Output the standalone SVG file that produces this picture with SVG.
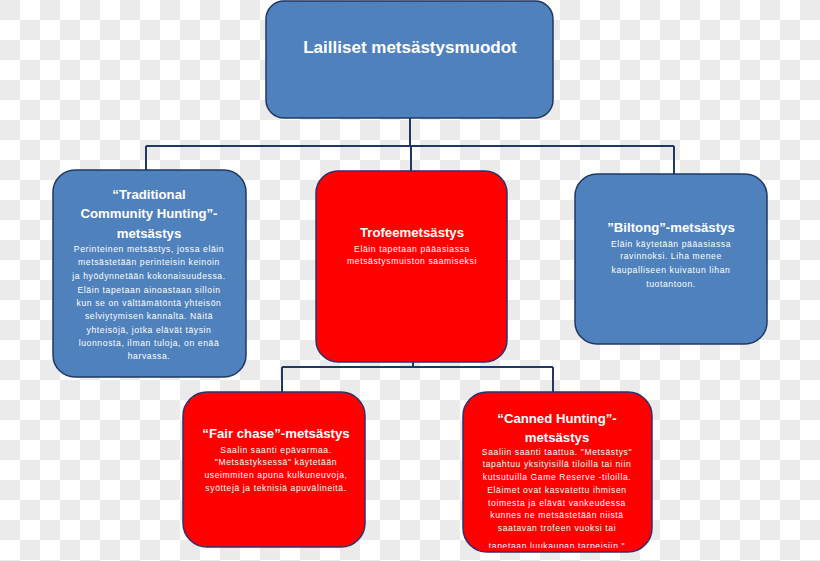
<svg xmlns="http://www.w3.org/2000/svg" width="820" height="561" viewBox="0 0 820 561">
<defs>
<pattern id="chk" width="40" height="40" patternUnits="userSpaceOnUse">
<rect width="40" height="40" fill="#ffffff"/>
<rect x="0" y="0" width="20" height="20" fill="#ebebeb"/>
<rect x="20" y="20" width="20" height="20" fill="#ebebeb"/>
</pattern>
<clipPath id="clipCanned"><rect x="463" y="392" width="189" height="156" rx="24"/></clipPath>
<style>
.blue{fill:#4f81bd;stroke:#1f3864;stroke-width:1.5}
.red{fill:#ff0000;stroke:#2e3170;stroke-width:1.5}
.conn{fill:none;stroke:#1f3864;stroke-width:2}
text{font-family:"Liberation Sans",Arial,sans-serif;fill:#ffffff;text-anchor:middle}
.h0{font-size:17px;font-weight:bold}
.h{font-size:13.2px;font-weight:bold}
.b{font-size:8.6px;letter-spacing:0.6px}
</style>
</defs>
<rect width="820" height="561" fill="url(#chk)"/>
<g id="connectors">
<path class="conn" d="M410 118 V146 M146 146 H674 M146 146 V171 M674 146 V175 M411 146 V171"/>
<path class="conn" d="M413 362 V367 M282 367 H553 M282 367 V393 M553 367 V393"/>
</g>
<g id="root">
<rect class="blue" x="266" y="1" width="287" height="117" rx="18"/>
<text class="h0" x="410" y="53">Lailliset metsästysmuodot</text>
</g>
<g id="traditional">
<rect class="blue" x="53" y="170" width="193" height="207" rx="22"/>
<text class="h" x="149" y="199">“Traditional</text>
<text class="h" x="149" y="218">Community Hunting”-</text>
<text class="h" x="149" y="238">metsästys</text>
<text class="b" x="149" y="252">Perinteinen metsästys, jossa eläin</text>
<text class="b" x="149" y="265">metsästetään perinteisin keinoin</text>
<text class="b" x="149" y="279">ja hyödynnetään kokonaisuudessa.</text>
<text class="b" x="149" y="293">Eläin tapetaan ainoastaan silloin</text>
<text class="b" x="149" y="306">kun se on välttämätöntä yhteisön</text>
<text class="b" x="149" y="319">selviytymisen kannalta. Näitä</text>
<text class="b" x="149" y="333">yhteisöjä, jotka elävät täysin</text>
<text class="b" x="149" y="346">luonnosta, ilman tuloja, on enää</text>
<text class="b" x="149" y="359">harvassa.</text>
</g>
<g id="trofee">
<rect class="red" x="316" y="171" width="191" height="191" rx="22"/>
<text class="h" x="412" y="237">Trofeemetsästys</text>
<text class="b" x="412" y="252">Eläin tapetaan pääasiassa</text>
<text class="b" x="412" y="264">metsästysmuiston saamiseksi</text>
</g>
<g id="biltong">
<rect class="blue" x="575" y="174" width="192" height="170" rx="22"/>
<text class="h" x="671" y="232">”Biltong”-metsästys</text>
<text class="b" x="671" y="247">Eläin käytetään pääasiassa</text>
<text class="b" x="671" y="259">ravinnoksi. Liha menee</text>
<text class="b" x="671" y="273">kaupalliseen kuivatun lihan</text>
<text class="b" x="671" y="287">tuotantoon.</text>
</g>
<g id="fairchase">
<rect class="red" x="183" y="392" width="182" height="155" rx="24"/>
<text class="h" x="276" y="438">“Fair chase”-metsästys</text>
<text class="b" x="276" y="453">Saalin saanti epävarmaa.</text>
<text class="b" x="276" y="465">"Metsästyksessä" käytetään</text>
<text class="b" x="276" y="478">useimmiten apuna kulkuneuvoja,</text>
<text class="b" x="276" y="491">syöttejä ja teknisiä apuvälineitä.</text>
</g>
<g id="canned">
<rect class="red" x="463" y="392" width="189" height="160" rx="24"/>
<g clip-path="url(#clipCanned)">
<text class="h" x="557" y="423">“Canned Hunting”-</text>
<text class="h" x="557" y="442">metsästys</text>
<text class="b" x="557" y="455">Saaliin saanti taattua. "Metsästys"</text>
<text class="b" x="557" y="467">tapahtuu yksityisillä tiloilla tai niin</text>
<text class="b" x="557" y="480">kutsutuilla Game Reserve -tiloilla.</text>
<text class="b" x="557" y="493">Eläimet ovat kasvatettu ihmisen</text>
<text class="b" x="557" y="506">toimesta ja elävät vankeudessa</text>
<text class="b" x="557" y="518">kunnes ne metsästetään niistä</text>
<text class="b" x="557" y="531">saatavan trofeen vuoksi tai</text>
<text class="b" x="557" y="549">tapetaan luukaupan tarpeisiin."</text>
</g>
</g>
</svg>
